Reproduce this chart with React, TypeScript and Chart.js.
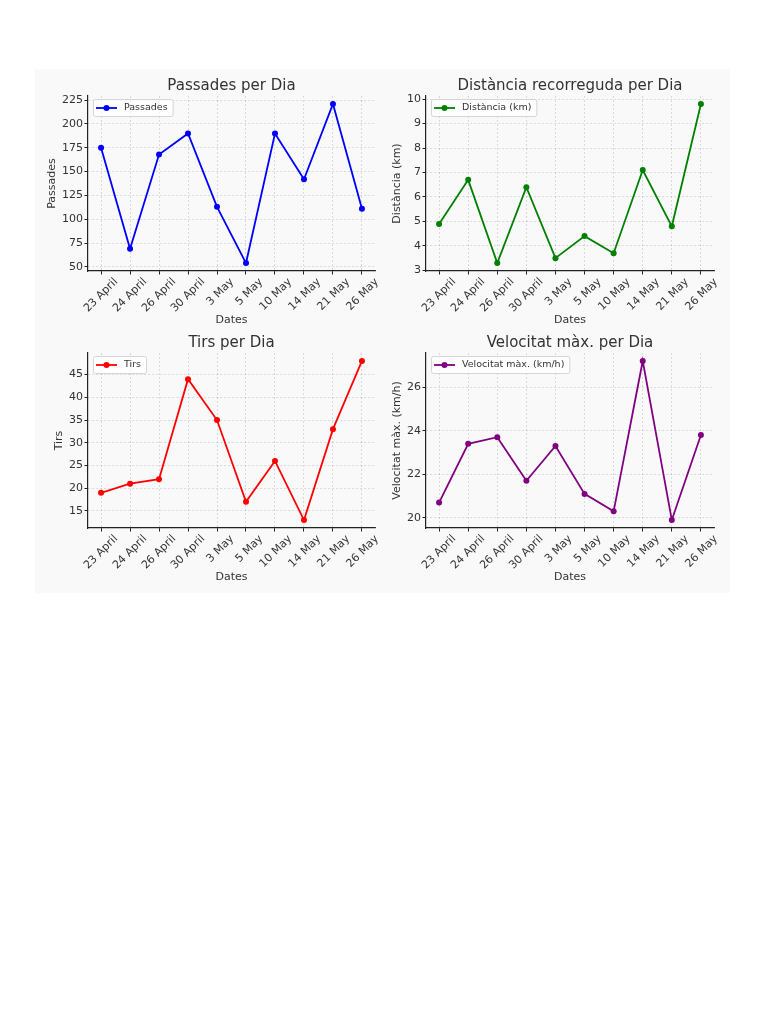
import React, { useEffect, useRef } from "react";
import { Chart, registerables } from "chart.js";

Chart.register(...registerables);

// ---------- data ----------
const dates = ["23 April", "24 April", "26 April", "30 April", "3 May", "5 May", "10 May", "14 May", "21 May", "26 May"];
const passades = [175, 69, 168, 190, 113, 54, 190, 142, 221, 111];
const distancia = [4.9, 6.7, 3.3, 6.4, 3.5, 4.4, 3.7, 7.1, 4.8, 9.8];
const tirs = [19, 21, 22, 44, 35, 17, 26, 13, 33, 48];
const velocitat = [20.7, 23.4, 23.7, 21.7, 23.3, 21.1, 20.3, 27.2, 19.9, 23.8];

const passadesTicks = [50, 75, 100, 125, 150, 175, 200, 225];
const distanciaTicks = [3, 4, 5, 6, 7, 8, 9, 10];
const tirsTicks = [15, 20, 25, 30, 35, 40, 45];
const velocitatTicks = [20, 22, 24, 26];

const titles = ["Passades per Dia", "Distància recorreguda per Dia", "Tirs per Dia", "Velocitat màx. per Dia"];
const seriesLabels = ["Passades", "Distància (km)", "Tirs", "Velocitat màx. (km/h)"];
const yLabels = ["Passades", "Distància (km)", "Tirs", "Velocitat màx. (km/h)"];
const xLabel = "Dates";

// ---------- styles / layout ----------
const FONT = "'DejaVu Sans', 'Liberation Sans', sans-serif";
const TEXT = "#333333";
const LEFT_SPACE = 53;
const TOP_SPACE = 30;
const BOTTOM_SPACE = 60;
const RIGHT_SPACE = 20;

const panels = [
  { values: passades, ticks: passadesTicks, color: "#0000ff", left: 88, top: 96, w: 287, h: 175, yTitlePad: 11 },
  { values: distancia, ticks: distanciaTicks, color: "#008000", left: 426, top: 96, w: 288, h: 175, yTitlePad: 18 },
  { values: tirs, ticks: tirsTicks, color: "#ff0000", left: 88, top: 353, w: 287, h: 175, yTitlePad: 17.5 },
  { values: velocitat, ticks: velocitatTicks, color: "#800080", left: 426, top: 353, w: 288, h: 175, yTitlePad: 18 },
];

const legendPlugin = {
  id: "mplLegend",
  afterDraw(chart: any) {
    const { ctx, chartArea } = chart;
    const ds = chart.data.datasets[0];
    const color = ds.borderColor as string;
    ctx.save();
    ctx.font = `9.5px ${FONT}`;
    const tw = ctx.measureText(ds.label).width;
    const x0 = chartArea.left + 5;
    const y0 = chartArea.top + 3;
    const w = 31 + tw + 5;
    const h = 17;
    ctx.beginPath();
    if ((ctx as any).roundRect) (ctx as any).roundRect(x0 + 0.5, y0 + 0.5, w, h, 2);
    else ctx.rect(x0 + 0.5, y0 + 0.5, w, h);
    ctx.fillStyle = "rgba(255,255,255,0.8)";
    ctx.fill();
    ctx.strokeStyle = "#cccccc";
    ctx.lineWidth = 0.8;
    ctx.stroke();
    const cy = y0 + h / 2 + 0.5;
    ctx.beginPath();
    ctx.moveTo(chartArea.left + 8, cy);
    ctx.lineTo(chartArea.left + 29, cy);
    ctx.strokeStyle = color;
    ctx.lineWidth = 1.8;
    ctx.stroke();
    ctx.beginPath();
    ctx.arc(chartArea.left + 18.5, cy, 3, 0, Math.PI * 2);
    ctx.fillStyle = color;
    ctx.fill();
    ctx.fillStyle = TEXT;
    ctx.textBaseline = "middle";
    ctx.textAlign = "left";
    ctx.fillText(ds.label, chartArea.left + 36, cy);
    ctx.restore();
  },
};

function Panel({ idx }: { idx: number }) {
  const ref = useRef<HTMLCanvasElement | null>(null);
  const p = panels[idx];
  const cw = LEFT_SPACE + p.w + RIGHT_SPACE;
  const ch = TOP_SPACE + p.h + BOTTOM_SPACE;

  useEffect(() => {
    if (!ref.current) return;
    const vals = p.values;
    const lo = Math.min(...vals);
    const hi = Math.max(...vals);
    const m = (hi - lo) * 0.05;
    const n = dates.length;
    const xm = (n - 1) * 0.05;
    const chart = new Chart(ref.current, {
      type: "line",
      data: {
        datasets: [
          {
            label: seriesLabels[idx],
            data: vals.map((v, i) => ({ x: i, y: v })),
            borderColor: p.color,
            backgroundColor: p.color,
            borderWidth: 1.8,
            pointRadius: 3,
            pointBorderWidth: 0,
            pointBackgroundColor: p.color,
            tension: 0,
            fill: false,
          },
        ],
      },
      options: {
        animation: false,
        responsive: false,
        devicePixelRatio: 1,
        layout: { padding: { left: 0, top: 0, right: RIGHT_SPACE, bottom: 0 } },
        plugins: {
          legend: { display: false },
          tooltip: { enabled: false },
          title: {
            display: true,
            text: titles[idx],
            fullSize: false,
            color: TEXT,
            font: { family: FONT, size: 15, weight: "normal" },
            padding: { top: 11, bottom: 1 },
          },
        },
        scales: {
          x: {
            type: "linear",
            min: -xm,
            max: n - 1 + xm,
            afterBuildTicks: (s: any) => {
              s.ticks = dates.map((_, i) => ({ value: i }));
            },
            afterFit: (s: any) => {
              s.height = BOTTOM_SPACE;
            },
            ticks: {
              autoSkip: false,
              minRotation: 45,
              maxRotation: 45,
              labelOffset: 15,
              padding: 1,
              color: TEXT,
              font: { family: FONT, size: 11 },
              callback: (v: any) => dates[Number(v)] ?? "",
            },
            grid: {
              color: "rgba(0,0,0,0.16)",
              lineWidth: 0.8,
              tickLength: 3.5,
              tickColor: "#222222",
              tickWidth: 1,
              tickBorderDash: [],
            },
            border: { display: true, color: "#222222", width: 1.2, dash: [2, 2] },
            title: {
              display: true,
              text: xLabel,
              color: TEXT,
              font: { family: FONT, size: 11 },
              padding: { top: 0, bottom: 4 },
            },
          },
          y: {
            type: "linear",
            min: lo - m,
            max: hi + m,
            afterBuildTicks: (s: any) => {
              s.ticks = p.ticks.map((v) => ({ value: v }));
            },
            afterFit: (s: any) => {
              s.width = LEFT_SPACE;
            },
            ticks: {
              padding: 1.5,
              color: TEXT,
              font: { family: FONT, size: 11 },
              callback: (v: any) => String(v),
            },
            grid: {
              color: "rgba(0,0,0,0.16)",
              lineWidth: 0.8,
              tickLength: 3.5,
              tickColor: "#222222",
              tickWidth: 1,
              tickBorderDash: [],
            },
            border: { display: true, color: "#222222", width: 1.2, dash: [2, 2] },
            title: {
              display: true,
              text: yLabels[idx],
              color: TEXT,
              font: { family: FONT, size: 11 },
              padding: { top: p.yTitlePad, bottom: 0 },
            },
          },
        },
      },
      plugins: [legendPlugin],
    } as any);
    return () => chart.destroy();
  }, [idx]);

  return (
    <canvas
      ref={ref}
      width={cw}
      height={ch}
      style={{
        position: "absolute",
        left: p.left - LEFT_SPACE,
        top: p.top - TOP_SPACE,
        width: cw,
        height: ch,
      }}
    />
  );
}

export default function App() {
  return (
    <div style={{ position: "absolute", left: 0, top: 0, width: 768, height: 1024, background: "#ffffff" }}>
      <div
        style={{
          position: "absolute",
          left: 35,
          top: 69,
          width: 695,
          height: 524,
          background: "#f9f9f9",
        }}
      />
      {panels.map((_, i) => (
        <Panel key={i} idx={i} />
      ))}
    </div>
  );
}
